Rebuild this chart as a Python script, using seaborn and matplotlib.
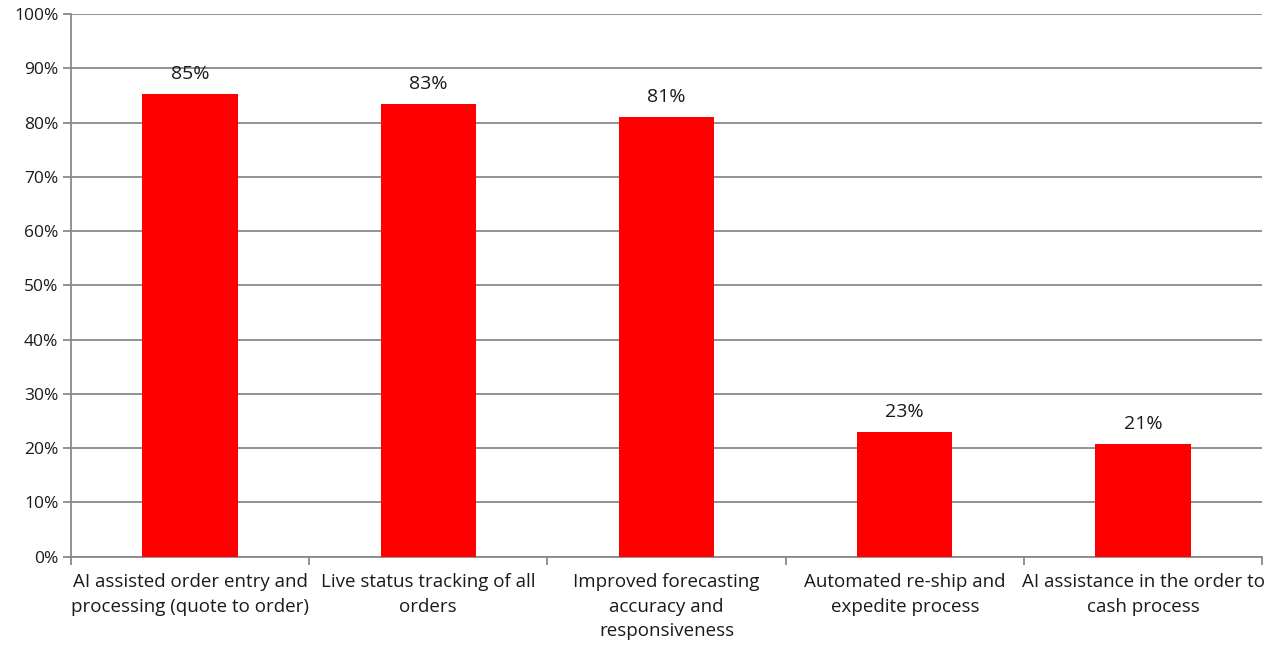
import pandas as pd
import seaborn as sns
import matplotlib.pyplot as plt
from matplotlib.ticker import MultipleLocator, FixedLocator, PercentFormatter

categories = [
    "AI assisted order entry and\nprocessing (quote to order)",
    "Live status tracking of all\norders",
    "Improved forecasting\naccuracy and\nresponsiveness",
    "Automated re-ship and\nexpedite process",
    "AI assistance in the order to\ncash process",
]
values = [85.3, 83.4, 81.1, 23.0, 20.8]
labels = ["85%", "83%", "81%", "23%", "21%"]

df = pd.DataFrame({"category": categories, "value": values})

sns.set_theme(style="white")
plt.rcParams["font.family"] = ["Open Sans", "DejaVu Sans"]

fig, ax = plt.subplots(figsize=(12.66, 6.45), dpi=100)
fig.subplots_adjust(left=0.056, right=0.997, top=0.978, bottom=0.137)

sns.barplot(data=df, x="category", y="value", color="#ff0000",
            width=0.4, saturation=1, linewidth=0, ax=ax, zorder=3)

ax.set_ylim(0, 100)
ax.set_xlim(-0.5, len(categories) - 0.5)
ax.yaxis.set_major_locator(MultipleLocator(10))
ax.yaxis.set_major_formatter(PercentFormatter(decimals=0))
ax.grid(axis="y", color="#898989", linewidth=1.3, zorder=0)
ax.set_axisbelow(True)

for s in ["top", "right"]:
    ax.spines[s].set_visible(False)
for s in ["left", "bottom"]:
    ax.spines[s].set_color("#898989")
    ax.spines[s].set_linewidth(1.3)

# x ticks at category boundaries, labels centred under bars
ax.xaxis.set_major_locator(FixedLocator([i - 0.5 for i in range(len(categories) + 1)]))
ax.xaxis.set_major_formatter(plt.NullFormatter())
ax.xaxis.set_minor_locator(FixedLocator(range(len(categories))))
ax.set_xticklabels(categories, minor=True, fontsize=13.5, color="#1a1a1a",
                   va="top", linespacing=1.45)
ax.tick_params(axis="x", which="minor", length=0, pad=12)
ax.tick_params(axis="x", which="major", length=6, width=1.3, color="#898989",
               direction="out", bottom=True)
ax.tick_params(axis="y", length=6, width=1.3, color="#898989", direction="out",
               left=True, labelsize=12.5, labelcolor="#1a1a1a", pad=3)

ax.set_xlabel("")
ax.set_ylabel("")

for i, (v, lab) in enumerate(zip(values, labels)):
    ax.text(i, v + 2.0, lab, ha="center", va="bottom", fontsize=14, color="#1a1a1a")

plt.savefig("out.png", dpi=100)
